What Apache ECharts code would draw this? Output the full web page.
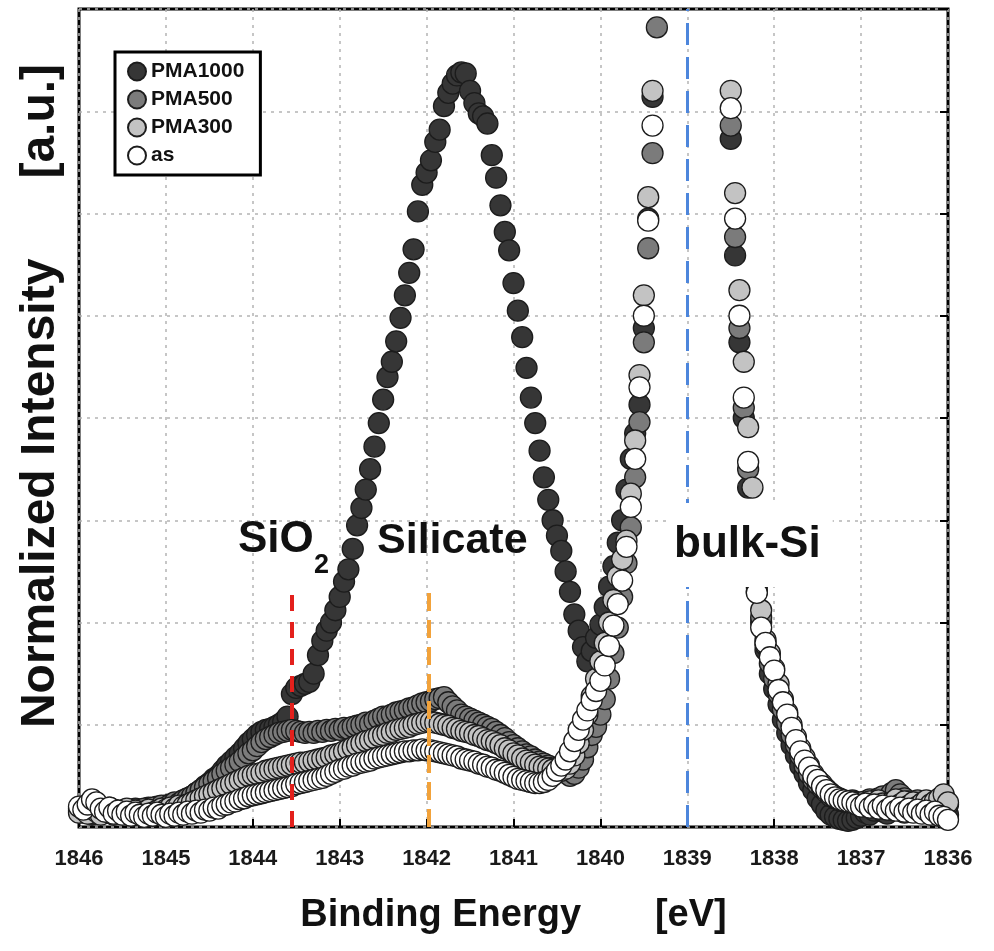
<!DOCTYPE html>
<html>
<head>
<meta charset="utf-8">
<title>Si 1s XPS</title>
<script src="https://cdn.jsdelivr.net/npm/echarts@6/dist/echarts.min.js"></script>
<style>
  html, body { margin: 0; padding: 0; background: #fff; }
  #chart { width: 994px; height: 951px; }
</style>
</head>
<body>
<div id="chart"></div>
<script>
// binding energy grid [eV], 0.05 eV step
const energy = [
  1846.00, 1845.95, 1845.90, 1845.85, 1845.80, 1845.75, 1845.70, 1845.65, 1845.60, 1845.55,
  1845.50, 1845.45, 1845.40, 1845.35, 1845.30, 1845.25, 1845.20, 1845.15, 1845.10, 1845.05,
  1845.00, 1844.95, 1844.90, 1844.85, 1844.80, 1844.75, 1844.70, 1844.65, 1844.60, 1844.55,
  1844.50, 1844.45, 1844.40, 1844.35, 1844.30, 1844.25, 1844.20, 1844.15, 1844.10, 1844.05,
  1844.00, 1843.95, 1843.90, 1843.85, 1843.80, 1843.75, 1843.70, 1843.65, 1843.60, 1843.55,
  1843.50, 1843.45, 1843.40, 1843.35, 1843.30, 1843.25, 1843.20, 1843.15, 1843.10, 1843.05,
  1843.00, 1842.95, 1842.90, 1842.85, 1842.80, 1842.75, 1842.70, 1842.65, 1842.60, 1842.55,
  1842.50, 1842.45, 1842.40, 1842.35, 1842.30, 1842.25, 1842.20, 1842.15, 1842.10, 1842.05,
  1842.00, 1841.95, 1841.90, 1841.85, 1841.80, 1841.75, 1841.70, 1841.65, 1841.60, 1841.55,
  1841.50, 1841.45, 1841.40, 1841.35, 1841.30, 1841.25, 1841.20, 1841.15, 1841.10, 1841.05,
  1841.00, 1840.95, 1840.90, 1840.85, 1840.80, 1840.75, 1840.70, 1840.65, 1840.60, 1840.55,
  1840.50, 1840.45, 1840.40, 1840.35, 1840.30, 1840.25, 1840.20, 1840.15, 1840.10, 1840.05,
  1840.00, 1839.95, 1839.90, 1839.85, 1839.80, 1839.75, 1839.70, 1839.65, 1839.60, 1839.55,
  1839.50, 1839.45, 1839.40, 1839.35, 1839.30, 1839.25, 1839.20, 1839.15, 1839.10, 1839.05,
  1839.00, 1838.95, 1838.90, 1838.85, 1838.80, 1838.75, 1838.70, 1838.65, 1838.60, 1838.55,
  1838.50, 1838.45, 1838.40, 1838.35, 1838.30, 1838.25, 1838.20, 1838.15, 1838.10, 1838.05,
  1838.00, 1837.95, 1837.90, 1837.85, 1837.80, 1837.75, 1837.70, 1837.65, 1837.60, 1837.55,
  1837.50, 1837.45, 1837.40, 1837.35, 1837.30, 1837.25, 1837.20, 1837.15, 1837.10, 1837.05,
  1837.00, 1836.95, 1836.90, 1836.85, 1836.80, 1836.75, 1836.70, 1836.65, 1836.60, 1836.55,
  1836.50, 1836.45, 1836.40, 1836.35, 1836.30, 1836.25, 1836.20, 1836.15, 1836.10, 1836.05,
  1836.00
]

const pma1000 = [
  0.16, 0.19, 0.14, 0.12, 0.17, 0.13, 0.16, 0.15, 0.12, 0.14,
  0.16, 0.13, 0.15, 0.18, 0.14, 0.17, 0.19, 0.16, 0.20, 0.18,
  0.21, 0.20, 0.23, 0.22, 0.26, 0.28, 0.30, 0.33, 0.36, 0.40,
  0.43, 0.47, 0.50, 0.55, 0.60, 0.64, 0.68, 0.72, 0.77, 0.82,
  0.86, 0.90, 0.93, 0.95, 0.96, 0.98, 1.00, 1.03, 1.08, 1.30,
  1.36, 1.38, 1.40, 1.42, 1.50, 1.68, 1.82, 1.92, 2.00, 2.12,
  2.25, 2.40, 2.52, 2.72, 2.95, 3.12, 3.30, 3.50, 3.72, 3.95,
  4.18, 4.40, 4.55, 4.75, 4.98, 5.20, 5.42, 5.65, 6.02, 6.28,
  6.40, 6.52, 6.70, 6.82, 7.05, 7.18, 7.27, 7.35, 7.38, 7.37,
  7.20, 7.08, 6.98, 6.95, 6.88, 6.57, 6.35, 6.08, 5.82, 5.64,
  5.32, 5.05, 4.79, 4.49, 4.20, 3.95, 3.68, 3.42, 3.20, 3.00,
  2.85, 2.70, 2.50, 2.30, 2.08, 1.92, 1.76, 1.62, 1.72, 1.85,
  1.98, 2.15, 2.35, 2.55, 2.78, 3.00, 3.30, 3.60, 3.85, 4.13,
  4.88, 5.95, 7.14, 8.50, 10.2, 12.0, 13.6, 14.8, 15.5, 15.8,
  15.6, 15.0, 14.0, 12.8, 11.6, 10.6, 9.80, 9.20, 8.70, 8.20,
  6.73, 5.59, 4.74, 4.00, 3.32, 2.62, 2.35, 2.00, 1.73, 1.50,
  1.35, 1.20, 1.05, 0.92, 0.80, 0.70, 0.60, 0.52, 0.43, 0.36,
  0.28, 0.22, 0.16, 0.12, 0.10, 0.08, 0.07, 0.06, 0.07, 0.09,
  0.11, 0.14, 0.12, 0.16, 0.19, 0.15, 0.13, 0.17, 0.20, 0.16,
  0.14, 0.18, 0.21, 0.17, 0.15, 0.19, 0.16, 0.13, 0.18, 0.15,
  0.12
]

const pma500 = [
  0.18, 0.14, 0.20, 0.16, 0.13, 0.17, 0.15, 0.19, 0.14, 0.16,
  0.13, 0.17, 0.15, 0.12, 0.16, 0.18, 0.15, 0.19, 0.17, 0.21,
  0.19, 0.22, 0.24, 0.23, 0.26, 0.28, 0.30, 0.33, 0.36, 0.39,
  0.42, 0.45, 0.48, 0.52, 0.55, 0.58, 0.61, 0.64, 0.68, 0.72,
  0.75, 0.79, 0.83, 0.86, 0.88, 0.90, 0.92, 0.93, 0.94, 0.95,
  0.94, 0.93, 0.92, 0.93, 0.92, 0.94, 0.93, 0.95, 0.94, 0.96,
  0.95, 0.97, 0.96, 0.98, 0.99, 1.00, 1.02, 1.01, 1.04, 1.06,
  1.08, 1.08, 1.10, 1.12, 1.13, 1.14, 1.16, 1.17, 1.19, 1.21,
  1.22, 1.23, 1.25, 1.26, 1.27, 1.22, 1.18, 1.14, 1.10, 1.08,
  1.06, 1.04, 1.02, 1.00, 0.98, 0.96, 0.93, 0.90, 0.87, 0.83,
  0.80, 0.77, 0.74, 0.71, 0.69, 0.66, 0.64, 0.62, 0.60, 0.58,
  0.57, 0.55, 0.53, 0.50, 0.52, 0.58, 0.66, 0.78, 0.90, 0.98,
  1.10, 1.25, 1.45, 1.70, 1.95, 2.25, 2.58, 2.93, 3.42, 3.96,
  4.74, 5.66, 6.59, 7.82, 9.40, 11.2, 12.8, 14.0, 14.8, 15.2,
  15.0, 14.5, 13.6, 12.5, 11.4, 10.4, 9.60, 9.00, 8.50, 8.10,
  6.86, 5.77, 4.88, 4.10, 3.50, 2.70, 2.30, 2.05, 1.78, 1.60,
  1.45, 1.30, 1.15, 1.02, 0.90, 0.80, 0.70, 0.60, 0.52, 0.46,
  0.42, 0.38, 0.34, 0.30, 0.28, 0.26, 0.25, 0.24, 0.26, 0.24,
  0.22, 0.25, 0.27, 0.24, 0.28, 0.30, 0.27, 0.33, 0.36, 0.32,
  0.28, 0.25, 0.22, 0.26, 0.23, 0.20, 0.24, 0.21, 0.26, 0.30,
  0.22
]

const pma300 = [
  0.14, 0.17, 0.13, 0.18, 0.15, 0.12, 0.16, 0.14, 0.17, 0.13,
  0.15, 0.18, 0.14, 0.16, 0.13, 0.15, 0.17, 0.14, 0.16, 0.18,
  0.17, 0.19, 0.18, 0.21, 0.20, 0.22, 0.24, 0.26, 0.28, 0.30,
  0.32, 0.34, 0.36, 0.38, 0.40, 0.42, 0.44, 0.46, 0.48, 0.50,
  0.51, 0.52, 0.53, 0.55, 0.56, 0.57, 0.58, 0.59, 0.60, 0.61,
  0.62, 0.63, 0.63, 0.64, 0.65, 0.66, 0.67, 0.68, 0.70, 0.71,
  0.72, 0.74, 0.76, 0.78, 0.80, 0.82, 0.84, 0.85, 0.87, 0.89,
  0.90, 0.92, 0.93, 0.95, 0.96, 0.97, 0.98, 1.00, 1.01, 1.02,
  1.03, 1.03, 1.02, 1.01, 1.00, 0.99, 0.97, 0.96, 0.94, 0.93,
  0.92, 0.90, 0.89, 0.87, 0.85, 0.84, 0.82, 0.80, 0.77, 0.75,
  0.72, 0.70, 0.67, 0.65, 0.63, 0.61, 0.59, 0.58, 0.57, 0.56,
  0.55, 0.55, 0.57, 0.62, 0.70, 0.82, 0.95, 1.10, 1.28, 1.45,
  1.62, 1.80, 2.00, 2.22, 2.45, 2.62, 2.80, 3.26, 3.78, 4.42,
  5.20, 6.16, 7.20, 8.40, 10.0, 11.8, 13.4, 14.6, 15.3, 15.6,
  15.4, 14.8, 13.9, 12.8, 11.8, 10.9, 10.0, 9.30, 8.80, 8.30,
  7.20, 6.20, 5.25, 4.55, 3.91, 3.32, 2.45, 2.12, 1.83, 1.70,
  1.55, 1.40, 1.25, 1.12, 1.00, 0.88, 0.77, 0.68, 0.60, 0.52,
  0.46, 0.42, 0.37, 0.33, 0.30, 0.28, 0.26, 0.25, 0.25, 0.23,
  0.24, 0.21, 0.25, 0.22, 0.26, 0.23, 0.20, 0.24, 0.27, 0.22,
  0.25, 0.21, 0.24, 0.20, 0.23, 0.26, 0.22, 0.25, 0.28, 0.32,
  0.24
]

const asDep = [
  0.20, 0.17, 0.22, 0.27, 0.24, 0.18, 0.15, 0.19, 0.13, 0.16,
  0.12, 0.15, 0.11, 0.14, 0.12, 0.10, 0.13, 0.11, 0.14, 0.12,
  0.10, 0.13, 0.11, 0.14, 0.12, 0.15, 0.13, 0.16, 0.14, 0.17,
  0.16, 0.19, 0.18, 0.21, 0.22, 0.24, 0.25, 0.27, 0.28, 0.30,
  0.31, 0.32, 0.33, 0.34, 0.35, 0.36, 0.37, 0.38, 0.39, 0.40,
  0.42, 0.43, 0.44, 0.45, 0.46, 0.47, 0.48, 0.50, 0.52, 0.54,
  0.56, 0.57, 0.59, 0.60, 0.62, 0.63, 0.64, 0.65, 0.67, 0.68,
  0.69, 0.70, 0.71, 0.72, 0.73, 0.74, 0.74, 0.75, 0.75, 0.76,
  0.75, 0.75, 0.74, 0.73, 0.72, 0.71, 0.70, 0.69, 0.67, 0.66,
  0.65, 0.64, 0.62, 0.61, 0.59, 0.58, 0.56, 0.55, 0.53, 0.51,
  0.49, 0.47, 0.46, 0.45, 0.44, 0.43, 0.43, 0.44, 0.46, 0.50,
  0.55, 0.60, 0.66, 0.74, 0.84, 0.95, 1.05, 1.14, 1.24, 1.33,
  1.43, 1.58, 1.77, 1.97, 2.18, 2.41, 2.74, 3.13, 3.60, 4.30,
  5.00, 5.93, 6.86, 8.20, 9.80, 11.5, 13.1, 14.3, 15.0, 15.3,
  15.1, 14.6, 13.7, 12.6, 11.5, 10.6, 9.70, 9.00, 8.50, 8.10,
  7.03, 5.95, 5.00, 4.20, 3.57, 2.80, 2.29, 1.95, 1.80, 1.66,
  1.53, 1.34, 1.22, 1.10, 0.97, 0.85, 0.74, 0.65, 0.58, 0.50,
  0.46, 0.40, 0.36, 0.32, 0.29, 0.27, 0.26, 0.25, 0.24, 0.22,
  0.20, 0.23, 0.19, 0.22, 0.18, 0.21, 0.17, 0.20, 0.16, 0.19,
  0.15, 0.18, 0.14, 0.17, 0.13, 0.16, 0.12, 0.15, 0.11, 0.10,
  0.07
]

const seriesNames = ['PMA1000', 'PMA500', 'PMA300', 'as']
const xTicks = [1846, 1845, 1844, 1843, 1842, 1841, 1840, 1839, 1838, 1837, 1836]

// reference peak positions: SiO2, silicate, bulk-Si
const refEnergy = [1843.55, 1841.97, 1839.0]
const refTop = [2.32, 2.37, 8]

const FONT = "'Liberation Sans', Arial, sans-serif"

let myChart = echarts.init(document.getElementById('chart'), null, { renderer: 'canvas' })

function pairs(values) {
  return energy.map((e, i) => [e, values[i]])
}

function dots(name, values, fill) {
  return {
    name: name,
    type: 'scatter',
    data: pairs(values),
    symbol: 'circle',
    symbolSize: 21,
    clip: true,
    itemStyle: {
      color: fill,
      borderColor: '#1c1c1c',
      borderWidth: 1.3,
      opacity: 1
    },
    emphasis: { disabled: true }
  }
}

let refStyles = [
  { color: '#e3201c', type: [16, 11], width: 4 },
  { color: '#f2a23a', type: [18, 9], width: 4 },
  { color: '#4d86dc', type: [22, 12], width: 3 }
]

let option = {
  backgroundColor: '#fff',
  animation: false,
  grid: {
    left: 79,
    right: 46,
    top: 9,
    bottom: 124,
    show: true,
    borderColor: '#000',
    borderWidth: 3,
    backgroundColor: 'transparent'
  },
  legend: {
    data: seriesNames,
    orient: 'vertical',
    left: 115,
    top: 52,
    icon: 'circle',
    itemWidth: 18,
    itemHeight: 18,
    itemGap: 7,
    padding: [9, 16, 9, 12],
    backgroundColor: '#fff',
    borderColor: '#000',
    borderWidth: 3,
    textStyle: {
      fontFamily: FONT,
      fontWeight: 'bold',
      fontSize: 21,
      color: '#111'
    }
  },
  xAxis: {
    type: 'value',
    inverse: true,
    min: xTicks[xTicks.length - 1],
    max: xTicks[0],
    interval: 1,
    name: 'Binding Energy       [eV]',
    nameLocation: 'middle',
    nameGap: 70,
    nameTextStyle: {
      fontFamily: FONT,
      fontWeight: 'bold',
      fontSize: 38,
      color: '#111'
    },
    axisLine: { show: false },
    axisTick: {
      show: true,
      inside: true,
      length: 8,
      lineStyle: { color: '#000', width: 2 }
    },
    axisLabel: {
      margin: 21,
      fontFamily: FONT,
      fontWeight: 'bold',
      fontSize: 22,
      color: '#1a1a1a',
      formatter: value => String(value)
    },
    splitLine: {
      show: true,
      lineStyle: { color: '#b4b4b4', type: [3, 5], width: 1.5 }
    }
  },
  yAxis: [
    {
      type: 'value',
      min: 0,
      max: 8,
      interval: 1,
      axisLine: { show: false },
      axisTick: { show: false },
      axisLabel: { show: false },
      splitLine: {
        show: true,
        lineStyle: { color: '#b4b4b4', type: [3, 5], width: 1.5 }
      }
    },
    {
      type: 'value',
      position: 'right',
      min: 0,
      max: 8,
      interval: 1,
      axisLine: { show: false },
      axisTick: {
        show: true,
        inside: true,
        length: 8,
        lineStyle: { color: '#000', width: 2 }
      },
      axisLabel: { show: false },
      splitLine: { show: false }
    }
  ],
  series: [
    dots(seriesNames[0], pma1000, '#363636'),
    dots(seriesNames[1], pma500, '#7b7b7b'),
    dots(seriesNames[2], pma300, '#c3c3c3'),
    dots(seriesNames[3], asDep, '#ffffff'),
    {
      // dashed reference lines
      name: 'ref',
      type: 'line',
      data: [],
      z: 4,
      markLine: {
        silent: true,
        symbol: 'none',
        animation: false,
        label: { show: false },
        data: refEnergy.map((e, i) => [
          { coord: [e, 0], lineStyle: refStyles[i] },
          { coord: [e, refTop[i]] }
        ])
      }
    }
  ],
  graphic: [
    {
      type: 'text',
      x: 41,
      y: 396,
      rotation: Math.PI / 2,
      z: 100,
      style: {
        text: 'Normalized Intensity      [a.u.]',
        font: 'bold 48px ' + FONT,
        fill: '#111',
        align: 'center',
        verticalAlign: 'middle'
      }
    },
    {
      type: 'text',
      x: 238,
      y: 540,
      z: 100,
      style: {
        text: 'SiO',
        font: 'bold 44px ' + FONT,
        fill: '#111',
        align: 'left',
        verticalAlign: 'middle'
      }
    },
    {
      type: 'text',
      x: 314,
      y: 566,
      z: 100,
      style: {
        text: '2',
        font: 'bold 27px ' + FONT,
        fill: '#111',
        align: 'left',
        verticalAlign: 'middle'
      }
    },
    {
      type: 'text',
      x: 377,
      y: 541,
      z: 100,
      style: {
        text: 'Silicate',
        font: 'bold 43px ' + FONT,
        fill: '#111',
        align: 'left',
        verticalAlign: 'middle'
      }
    },
    {
      type: 'text',
      x: 668,
      y: 545,
      z: 100,
      style: {
        text: 'bulk-Si',
        font: 'bold 44px ' + FONT,
        fill: '#111',
        align: 'left',
        verticalAlign: 'middle',
        backgroundColor: '#fff',
        padding: [24, 12, 16, 6]
      }
    }
  ]
}

myChart.setOption(option)
</script>
</body>
</html>
